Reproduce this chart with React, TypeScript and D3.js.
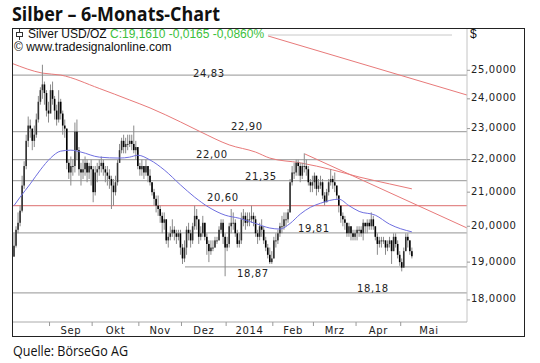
import React from 'react';
import * as d3 from 'd3';

// ---- data (one value per trading day, index 0 = 7 Aug 2013) ----
const closes = [
  19.45, 19.9, 20.1, 20.45, 21.2, 21.8, 22.6, 23.1, 23.0, 22.6, 22.8, 23.3, 23.9, 24.3, 24.5, 24.2, 23.6, 23.5,
  24.3, 24.0, 23.6, 23.3, 23.9, 23.5, 23.1, 23.0, 21.9, 21.6, 21.8, 21.8, 22.9, 22.3, 21.7, 21.6, 21.7, 21.9, 21.6, 21.8, 21.7,
  21.0, 21.6, 21.7, 21.8, 21.9, 21.7, 21.6, 21.5, 21.4, 21.2, 21.0, 21.3, 21.9, 22.3, 22.6, 22.4, 22.5, 22.5, 22.6, 22.5, 22.3, 22.4, 21.8,
  21.7, 21.8, 21.6, 21.8, 21.5, 21.3, 21.0, 20.8, 20.6, 20.5, 20.3, 20.1, 20.2, 19.6, 19.7, 19.8, 19.9, 19.8, 19.7, 19.8, 19.4,
  19.1, 19.4, 19.9, 19.8, 19.6, 20.0, 20.3, 20.2, 19.7, 19.8, 20.1, 19.7, 19.5, 19.3, 19.4, 19.4, 19.6, 19.6, 19.9, 20.1, 19.7, 19.4,
  19.5, 20.0, 20.1, 20.1, 19.8, 19.5, 19.6, 20.2, 20.3, 20.1, 20.2, 20.2, 20.3, 20.2, 19.8, 19.7, 20.0, 19.9, 19.6, 19.4, 19.2, 19.0, 19.1,
  19.6, 19.6, 19.8, 20.0, 20.0, 20.2, 20.2, 20.4, 21.3, 21.6, 21.6, 21.9, 21.8, 21.5, 21.8, 21.8, 21.7, 21.3, 21.2, 21.3,
  21.5, 21.1, 21.2, 21.3, 20.9, 20.7, 21.0, 21.3, 21.4, 21.3, 21.2, 20.9, 20.6, 20.3, 20.2, 20.1, 19.8, 20.0, 19.8, 19.7, 19.8,
  19.9, 19.9, 19.8, 20.1, 20.0, 20.1, 20.0, 20.2, 20.0, 19.7, 19.5, 19.6, 19.6, 19.6, 19.4, 19.5, 19.6, 19.3, 19.7, 19.5, 19.2, 19.0,
  18.85, 19.3, 19.7, 19.6, 19.3, 19.16,
];
const highs = [
  19.8, 20.0, 20.4, 20.6, 21.5, 21.95, 22.8, 23.4, 23.3, 23.0, 23.1, 23.5, 24.1, 24.4, 25.2, 24.6, 24.3, 23.9,
  24.5, 24.6, 24.1, 23.8, 24.3, 24.0, 23.6, 23.3, 23.0, 22.0, 22.1, 22.0, 23.2, 23.3, 22.4, 21.9, 22.0, 22.1, 22.0, 21.9, 22.0,
  21.8, 21.8, 21.9, 22.0, 22.1, 22.0, 21.8, 21.8, 21.7, 21.5, 21.4, 21.5, 22.0, 22.5, 22.7, 22.8, 22.7, 22.8, 22.8, 22.8, 23.1, 22.6, 22.3,
  21.9, 22.0, 21.8, 22.0, 21.8, 21.7, 21.3, 21.1, 20.9, 20.9, 20.6, 20.4, 20.4, 20.2, 19.8, 20.0, 20.2, 20.0, 19.9, 19.9, 19.9,
  19.5, 19.6, 20.0, 20.1, 19.9, 20.1, 20.6, 20.5, 20.1, 20.0, 20.3, 20.1, 19.8, 19.6, 19.6, 19.6, 19.7, 19.7, 20.0, 20.2, 20.2, 19.8,
  19.7, 20.1, 20.5, 20.4, 20.2, 19.9, 19.8, 20.4, 20.5, 20.4, 20.4, 20.4, 20.6, 20.4, 20.3, 19.9, 20.1, 20.2, 20.0, 19.7, 19.5, 19.4, 19.3,
  19.7, 19.8, 19.9, 20.1, 20.3, 20.4, 20.4, 20.5, 21.4, 21.8, 21.9, 22.0, 22.0, 21.9, 21.9, 22.2, 22.0, 21.8, 21.4, 21.5,
  21.6, 21.5, 21.4, 21.5, 21.4, 21.0, 21.1, 21.4, 21.7, 21.5, 21.6, 21.2, 20.9, 20.5, 20.4, 20.3, 20.1, 20.1, 20.0, 19.9, 19.9,
  20.0, 20.0, 20.0, 20.2, 20.1, 20.2, 20.2, 20.4, 20.3, 20.0, 19.8, 19.7, 19.7, 19.7, 19.6, 19.6, 19.7, 19.6, 19.8, 19.8, 19.6, 19.3,
  19.1, 19.4, 19.8, 19.8, 19.6, 19.4,
];
const lows = [
  19.15, 19.4, 19.8, 20.0, 20.4, 21.1, 21.7, 22.4, 22.7, 22.3, 22.4, 22.7, 23.2, 23.8, 24.0, 23.8, 23.4, 23.2,
  23.6, 23.8, 23.3, 23.1, 23.2, 23.3, 22.8, 22.7, 21.7, 21.4, 21.2, 21.5, 21.6, 22.0, 21.5, 21.2, 21.4, 21.5, 21.3, 21.4, 21.2,
  20.7, 20.9, 21.3, 21.5, 21.6, 21.5, 21.3, 21.2, 21.1, 20.5, 20.6, 20.9, 21.2, 21.9, 22.2, 22.2, 22.2, 22.3, 22.4, 22.3, 22.2, 22.0, 21.7,
  21.5, 21.5, 21.4, 21.5, 21.3, 21.2, 20.9, 20.6, 20.4, 20.3, 20.1, 19.8, 19.9, 19.5, 19.4, 19.6, 19.7, 19.6, 19.5, 19.6, 19.2,
  18.95, 19.0, 19.2, 19.6, 19.4, 19.5, 19.9, 19.9, 19.5, 19.6, 19.7, 19.6, 19.2, 19.0, 19.2, 19.3, 19.4, 19.5, 19.6, 19.8, 19.5, 18.62,
  19.3, 19.4, 19.8, 19.9, 19.7, 19.4, 19.4, 19.5, 20.0, 19.9, 20.0, 20.0, 20.1, 20.0, 19.7, 19.5, 19.6, 19.7, 19.5, 19.3, 19.1, 18.95, 18.95,
  19.1, 19.4, 19.5, 19.7, 19.8, 19.9, 20.0, 20.1, 20.4, 21.2, 21.4, 21.5, 21.5, 21.3, 21.4, 21.6, 21.5, 21.2, 21.0, 21.0,
  21.1, 20.9, 21.0, 21.1, 20.8, 20.6, 20.7, 20.9, 21.2, 21.1, 21.0, 20.8, 20.4, 20.1, 20.0, 19.9, 19.7, 19.7, 19.6, 19.6, 19.6,
  19.6, 19.7, 19.7, 19.6, 19.8, 19.8, 19.9, 19.9, 19.9, 19.6, 19.2, 19.4, 19.4, 19.5, 19.2, 19.3, 19.4, 18.95, 19.3, 19.4, 19.1, 18.9,
  18.75, 18.9, 19.3, 19.4, 19.2, 19.1,
];

// moving averages sampled as [trading-day index, value]
const maShort = [
  [0, 20.6], [3, 20.85], [8, 21.25], [13, 21.68], [18, 22.05], [23, 22.27], [28, 22.3], [33, 22.24], [42, 22.08],
  [52, 22.05], [57, 22.08], [61, 22.14], [67, 21.99], [74, 21.68], [82, 21.22], [89, 20.85], [96, 20.55], [104, 20.32],
  [111, 20.23], [119, 20.08], [126, 19.95], [131, 19.92], [136, 20.08], [141, 20.35], [146, 20.55], [151, 20.67],
  [160, 20.79], [165, 20.6], [170, 20.43], [178, 20.32], [185, 20.06], [196, 19.84],
];
const maLong = [
  [-1, 25.25], [14, 24.9], [23, 24.83], [42, 24.36], [57, 23.96], [67, 23.69], [82, 23.22], [92, 22.89],
  [106, 22.47], [119, 22.24], [126, 22.05], [141, 21.9], [157, 21.68], [170, 21.46], [185, 21.25], [196, 21.1],
];
// trend lines: [[startIndex, startPrice], [endIndex, endPrice]]
const trendLines = [
  [[125.1, 26.26], [223.2, 24.13]],
  [[143.3, 22.18], [223.2, 19.95]],
];

const levels = [24.83, 22.9, 22.0, 21.35, 20.6, 19.81, 18.87, 18.18];
const yTicks = [18, 19, 20, 21, 22, 23, 24, 25];
const monthLabels = ['Sep', 'Okt', 'Nov', 'Dez', '2014', 'Feb', 'Mrz', 'Apr', 'Mai'];
const monthStarts = [18, 39, 62, 83, 105, 128, 148, 169, 191];

// ---- layout / styles ----
const L = 12, R = 525, T = 28, B = 337;
const PR = 467, PB = 322;
const levelStyle = [
  { x: 193, dy: 2, x0: L, red: false },
  { x: 231, dy: -2, x0: L, red: false },
  { x: 196, dy: -1.5, x0: L, red: false },
  { x: 245, dy: -1, x0: L, red: false },
  { x: 207, dy: -5, x0: L, red: true },
  { x: 298, dy: -1, x0: L, red: false },
  { x: 237, dy: 10, x0: 185, red: false },
  { x: 357, dy: -1, x0: L, red: false },
];

const fmt = (v: number, d: number) => v.toFixed(d).replace('.', ',');

export default function App() {
  const x = d3.scaleLinear().domain([0, 196]).range([14, 14 + 196 * 2.03]);
  const y = d3.scaleLog().domain([17.44, 26.56]).range([PB, T]);

  const lineGen = d3
    .line<number[]>()
    .x((d) => x(d[0]))
    .y((d) => y(d[1]))
    .curve(d3.curveMonotoneX);

  const chartFont = { fontFamily: 'DejaVu Sans', fontSize: 10, letterSpacing: 0.6 } as const;
  const headFont = { fontFamily: 'Liberation Sans, Arial', fontSize: 12 } as const;

  const tickXs = monthStarts.map((s) => x(s - 0.5));

  return (
    <svg width={540} height={363} style={{ position: 'absolute', left: 0, top: 0, background: '#fff' }}>
      <rect x={0} y={0} width={540} height={363} fill="#fff" />
      <text x={12} y={21} fontFamily="Open Sans" fontWeight={700} fontSize={19} textLength={208} lengthAdjust="spacingAndGlyphs" fill="#111">
        Silber – 6-Monats-Chart
      </text>

      <defs>
        <clipPath id="plot">
          <rect x={L} y={T} width={PR - L} height={PB - T} />
        </clipPath>
      </defs>

      {/* level lines */}
      {levels.map((lv, i) => (
        <line key={'lv' + i} x1={levelStyle[i].x0} x2={PR} y1={y(lv)} y2={y(lv)}
          stroke={levelStyle[i].red ? '#e38a8a' : '#aaaaaa'} strokeWidth={1.2} />
      ))}

      <g clipPath="url(#plot)">
        {/* long MA */}
        <path d={lineGen(maLong) || ''} fill="none" stroke="#e87a7a" strokeWidth={1} />
        {trendLines.map((t, i) => (
          <line key={'tl' + i} x1={x(t[0][0])} y1={y(t[0][1])} x2={x(t[1][0])} y2={y(t[1][1])} stroke="#e87a7a" strokeWidth={1} />
        ))}
        {/* candles */}
        {closes.map((c, i) => {
          const o = i === 0 ? lows[0] : closes[i - 1];
          const cx = x(i);
          const top = y(Math.max(o, c));
          const bot = y(Math.min(o, c));
          return (
            <g key={'c' + i}>
              <line x1={cx} x2={cx} y1={y(highs[i])} y2={y(lows[i])} stroke="#8a8a8a" strokeWidth={1} />
              <rect x={cx - 0.8} width={1.6} y={top} height={Math.max(1, bot - top)} fill={c >= o ? '#333' : '#000'} />
            </g>
          );
        })}
        {/* short MA */}
        <path d={lineGen(maShort) || ''} fill="none" stroke="#6f6fe0" strokeWidth={1} />
      </g>

      {/* level labels */}
      {levels.map((lv, i) => (
        <text key={'ll' + i} x={levelStyle[i].x} y={y(lv) + levelStyle[i].dy} {...chartFont} fill="#222">
          {fmt(lv, 2)}
        </text>
      ))}

      {/* header */}
      <line x1={268} x2={452} y1={35} y2={35} stroke="#c8c8c8" strokeWidth={1} />
      <g stroke="#333" fill="none" strokeWidth={1}>
        <line x1={19.5} x2={19.5} y1={29} y2={40} />
        <rect x={16.5} y={32.5} width={6} height={4} fill="#fff" />
      </g>
      <text x={28} y={38} {...headFont} fill="#111">
        Silver USD/OZ <tspan fill="#3cbf3c">C:19,1610 -0,0165 -0,0860%</tspan>
      </text>
      <text x={14} y={51} {...headFont} fill="#111">© www.tradesignalonline.com</text>
      <text x={470} y={38} {...headFont} fill="#111">$</text>

      {/* y axis */}
      <line x1={PR} x2={PR} y1={T} y2={PB} stroke="#c4c4c4" />
      {yTicks.map((t) => (
        <g key={'yt' + t}>
          <line x1={PR} x2={PR + 3} y1={y(t)} y2={y(t)} stroke="#999" />
          <text x={471} y={y(t) + 2.5} {...chartFont} fill="#222">{fmt(t, 4)}</text>
        </g>
      ))}

      {/* x axis */}
      <line x1={L} x2={PR} y1={PB} y2={PB} stroke="#aaa" />
      {tickXs.map((tx, i) => {
        const next = i < tickXs.length - 1 ? tickXs[i + 1] : null;
        const cx = next !== null ? (tx + next) / 2 : (tx + PR) / 2 - 5;
        return (
          <g key={'mt' + i}>
            <line x1={tx} x2={tx} y1={PB} y2={PB + 4} stroke="#999" />
            <text x={cx} y={334} textAnchor="middle" {...chartFont} fill="#222">{monthLabels[i]}</text>
          </g>
        );
      })}

      {/* frame */}
      <rect x={L + 0.5} y={T + 0.5} width={R - L - 1} height={B - T - 1} fill="none" stroke="#222" strokeWidth={1} />

      <text x={13} y={356} fontFamily="Open Sans" fontSize={15} textLength={115} lengthAdjust="spacingAndGlyphs" fill="#111">
        Quelle: BörseGo AG
      </text>
    </svg>
  );
}
